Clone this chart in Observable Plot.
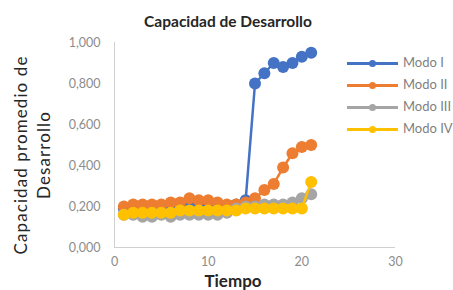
<!DOCTYPE html>
<html><head><meta charset="utf-8">
<script src="https://cdn.jsdelivr.net/npm/d3@7"></script>
<script src="https://cdn.jsdelivr.net/npm/@observablehq/plot@0.6"></script>
<style>
html,body{margin:0;padding:0;background:#fff;overflow:hidden;}
#wrap{position:relative;width:453px;height:290px;overflow:hidden;font-family:Lato,"Open Sans",sans-serif;}
#title{position:absolute;left:0;width:456px;top:12px;text-align:center;font-weight:bold;font-size:15.5px;color:#262626;}
#xlab{position:absolute;left:0;width:466px;top:272px;text-align:center;font-weight:bold;font-size:17px;line-height:17px;color:#262626;}
#ylab{position:absolute;left:32px;top:155px;transform:translate(-50%,-50%) rotate(-90deg);text-align:center;font-size:17px;letter-spacing:1.1px;line-height:23px;color:#262626;white-space:nowrap;}
#legend{position:absolute;left:347px;top:52px;}
.li{position:relative;height:22px;white-space:nowrap;font-size:13px;color:#7f7f7f;}
.li .ln{position:absolute;left:0;top:10px;width:51px;height:3px;}
.li .mk{position:absolute;left:22px;top:8px;width:7px;height:7px;border-radius:50%;}
.li .tx{position:absolute;left:56px;top:2px;}
</style></head>
<body><div id="wrap"><div id="chart"></div>
<div id="title">Capacidad de Desarrollo</div>
<div id="ylab">Capacidad promedio de<br>Desarrollo</div>
<div id="xlab">Tiempo</div>
<div id="legend"></div>
</div>
<script>
const tiempo = [1,2,3,4,5,6,7,8,9,10,11,12,13,14,15,16,17,18,19,20,21];
const series = ["Modo I","Modo II","Modo III","Modo IV"];
const colors = ["#4472C4","#ED7D31","#A5A5A5","#FFC000"];
const modoI   = [0.19,0.19,0.19,0.19,0.19,0.19,0.20,0.20,0.20,0.20,0.20,0.20,0.21,0.23,0.80,0.85,0.90,0.88,0.90,0.93,0.95];
const modoII  = [0.20,0.21,0.21,0.21,0.21,0.22,0.22,0.24,0.23,0.23,0.22,0.21,0.21,0.22,0.24,0.28,0.31,0.39,0.46,0.49,0.50];
const modoIII = [0.16,0.16,0.15,0.15,0.16,0.15,0.16,0.16,0.16,0.16,0.16,0.17,0.19,0.20,0.20,0.21,0.21,0.21,0.22,0.24,0.26];
const modoIV  = [0.16,0.17,0.17,0.17,0.17,0.17,0.18,0.18,0.18,0.18,0.18,0.18,0.18,0.19,0.19,0.19,0.19,0.19,0.19,0.19,0.32];
const xTicks = [0,10,20,30];
const yTicks = [0,0.2,0.4,0.6,0.8,1.0];

const values = [modoI, modoII, modoIII, modoIV];
const data = series.map((s,i)=>tiempo.map((t,j)=>({serie:s, t, v:values[i][j]})));
const fmt = d => d3.format(".3f")(d).replace(".",",");

const chart = Plot.plot({
  width:453, height:290,
  marginLeft:114, marginRight:58, marginTop:42, marginBottom:43,
  style:{fontFamily:"Lato, 'Open Sans', sans-serif", background:"transparent"},
  x:{domain:[0,30], label:null},
  y:{domain:[0,1], label:null},
  color:{domain:series, range:colors},
  marks:[
    Plot.axisY({ticks:yTicks, tickFormat:fmt, tickSize:0, tickPadding:14, fontSize:12.5, fill:"#8c8c8c", label:null}),
    Plot.axisX({ticks:xTicks, tickSize:0, tickPadding:10, fontSize:12.5, fill:"#8c8c8c", label:null}),
    Plot.ruleX([0], {stroke:"#d0d0d0", strokeWidth:1}),
    Plot.ruleY([0], {stroke:"#d0d0d0", strokeWidth:1}),
    ...data.flatMap(d => [
      Plot.line(d, {x:"t", y:"v", stroke:"serie", strokeWidth:2.5}),
      Plot.dot(d, {x:"t", y:"v", fill:"serie", r:6})
    ])
  ]
});
document.getElementById("chart").appendChild(chart);

const leg = document.getElementById("legend");
series.forEach((s,i)=>{
  const el = document.createElement("div");
  el.className="li";
  el.innerHTML = `<div class="ln" style="background:${colors[i]}"></div><div class="mk" style="background:${colors[i]}"></div><div class="tx">${s}</div>`;
  leg.appendChild(el);
});
</script>
</body></html>
